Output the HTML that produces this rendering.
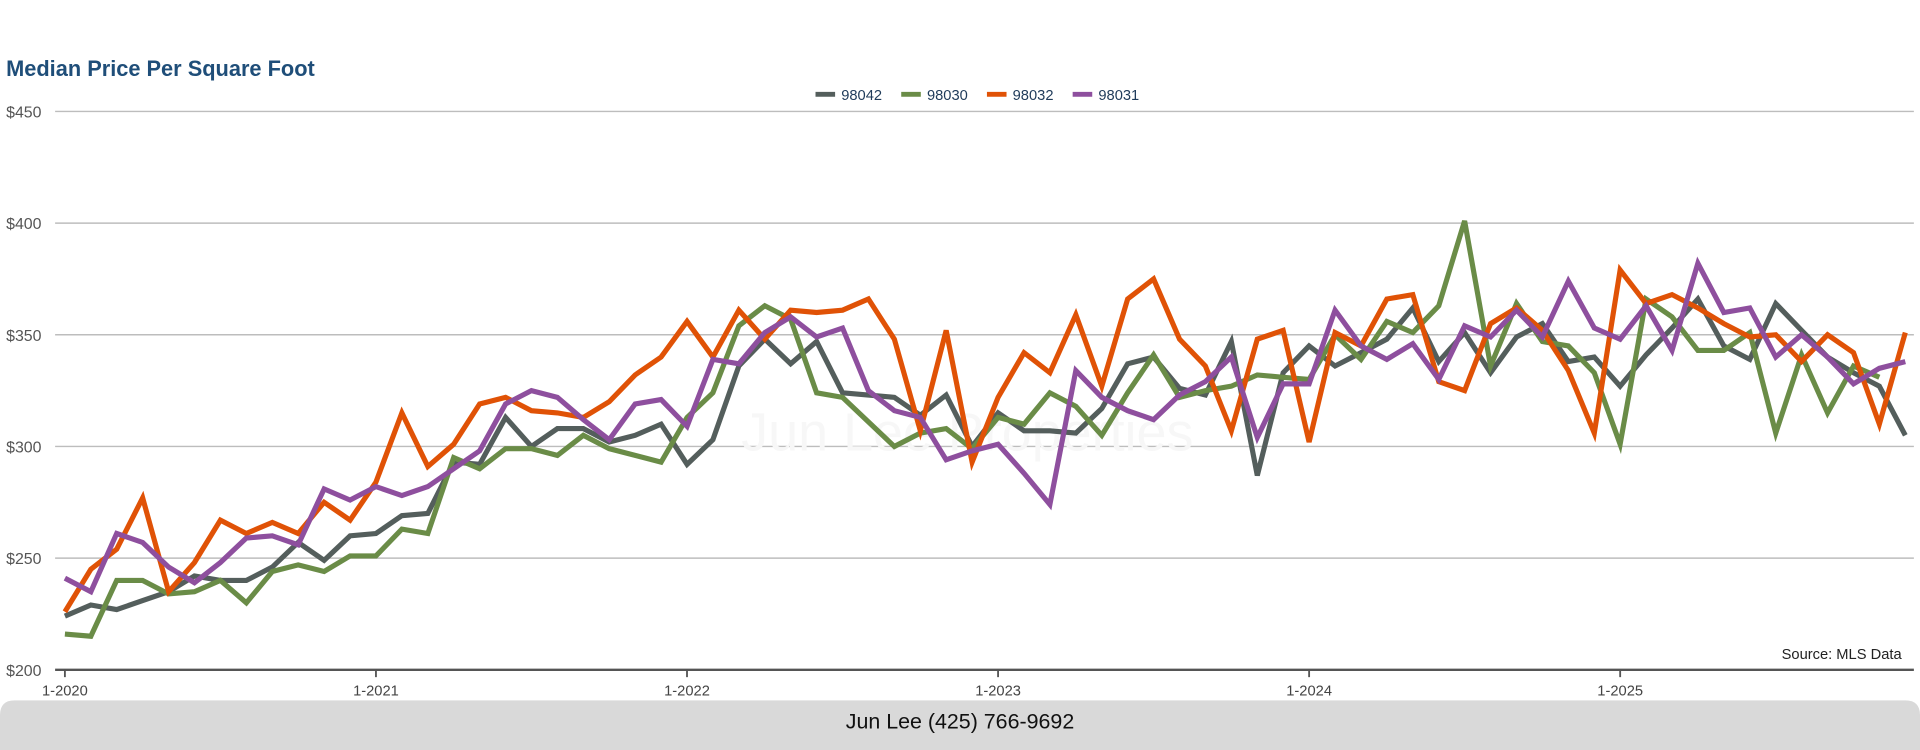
<!DOCTYPE html>
<html><head><meta charset="utf-8"><style>
html,body{margin:0;padding:0;background:#fff;width:1920px;height:750px;overflow:hidden}
svg{display:block;font-family:"Liberation Sans",sans-serif}
</style></head><body>
<svg id="chart" width="1920" height="750" viewBox="0 0 1568 612.5" xmlns="http://www.w3.org/2000/svg">
<text x="5" y="62" font-size="17.8" font-weight="bold" fill="#1f4e79">Median Price Per Square Foot</text>
<g id="legend"></g>
<g id="grid"></g>
<text x="790" y="368" font-size="44" fill="#f7f7f7" text-anchor="middle">Jun Lee Properties</text>
<g id="series"></g>
<text x="1553" y="538" font-size="12" fill="#222" text-anchor="end">Source: MLS Data</text>
<path d="M0,584 Q0,572 12,572 L1556,572 Q1568,572 1568,584 L1568,612.5 L0,612.5 Z" fill="#d9d9d9"/>
<text x="784" y="595" font-size="17.5" fill="#111" text-anchor="middle">Jun Lee (425) 766-9692</text>
</svg>
<script>
const NS="http://www.w3.org/2000/svg";
const seriesNames=["98042","98030","98032","98031"];
const seriesColors=["#545e5c","#6a8c47","#e05206","#8e4f9e"];
const yTicks=[200,250,300,350,400,450];
const xTickLabels=["1-2020","1-2021","1-2022","1-2023","1-2024","1-2025"];
const xTickIndex=[0,12,24,36,48,60];
const s98042=[224,229,227,231,235,242,240,240,246,257,249,260,261,269,270,293,292,313,300,308,308,302,305,310,292,303,336,348,337,347,324,323,322,314,323,300,315,307,307,306,317,337,340,326,323,347,287,333,345,336,342,348,362,338,351,333,349,355,338,340,327,341,353,366,345,339,364,352,340,333,327,305];
const s98030=[216,215,240,240,234,235,240,230,244,247,244,251,251,263,261,295,290,299,299,296,305,299,296,293,313,324,354,363,357,324,322,311,300,306,308,299,313,310,324,318,305,324,341,322,325,327,332,331,330,350,339,356,351,363,401,336,364,347,345,333,301,366,358,343,343,351,306,341,315,336,331,null];
const s98032=[226,245,254,277,235,248,267,261,266,261,275,267,284,315,291,301,319,322,316,315,313,320,332,340,356,340,361,348,361,360,361,366,348,307,352,293,322,342,333,359,327,366,375,348,336,307,348,352,302,351,345,366,368,329,325,355,362,352,334,306,379,364,368,362,355,349,350,338,350,342,310,351];
const s98031=[241,235,261,257,246,239,248,259,260,256,281,276,282,278,282,290,298,319,325,322,312,303,319,321,309,339,337,351,358,349,353,325,316,313,294,298,301,288,274,334,322,316,312,323,329,340,304,328,328,361,345,339,346,330,354,349,361,349,374,353,348,363,343,382,360,362,340,350,340,328,335,338];
const allSeries=[s98042,s98030,s98032,s98031];
const X0=53,X1=1556,N=72,Y0=547,Y1=91,VMIN=200,VMAX=450;
function xPos(i){return X0+i*(X1-X0)/(N-1);}
function yPos(v){return Y0-(v-VMIN)*(Y0-Y1)/(VMAX-VMIN);}
const grid=document.getElementById('grid');
yTicks.forEach(function(t){
  const y=yPos(t);
  const ln=document.createElementNS(NS,'line');
  ln.setAttribute('x1',45);ln.setAttribute('x2',1563);ln.setAttribute('y1',y);ln.setAttribute('y2',y);
  ln.setAttribute('stroke',t===200?'#555':'#bdbdbd');ln.setAttribute('stroke-width',t===200?2:1.2);
  
  
  grid.appendChild(ln);
  const tx=document.createElementNS(NS,'text');
  tx.setAttribute('x',5);tx.setAttribute('y',y+5);tx.setAttribute('font-size',13);tx.setAttribute('fill','#555');
  tx.textContent='$'+t;
  
  
  grid.appendChild(tx);
});
xTickIndex.forEach(function(idx,k){
  const x=xPos(idx);
  const tk=document.createElementNS(NS,'line');
  tk.setAttribute('x1',x);tk.setAttribute('x2',x);tk.setAttribute('y1',547);tk.setAttribute('y2',553);
  tk.setAttribute('stroke','#555');tk.setAttribute('stroke-width',1.5);
  
  
  grid.appendChild(tk);
  const tx=document.createElementNS(NS,'text');
  tx.setAttribute('x',x);tx.setAttribute('y',568);tx.setAttribute('font-size',12);tx.setAttribute('fill','#444');tx.setAttribute('text-anchor','middle');
  tx.textContent=xTickLabels[k];
  
  
  grid.appendChild(tx);
});
const sg=document.getElementById('series');
allSeries.forEach(function(arr,si){
  let d='';let pen=false;
  arr.forEach(function(v,i){
    if(v===null){pen=false;return;}
    d+=(pen?'L':'M')+xPos(i).toFixed(1)+','+yPos(v).toFixed(1);pen=true;
  });
  const p=document.createElementNS(NS,'path');
  p.setAttribute('d',d);p.setAttribute('fill','none');p.setAttribute('stroke',seriesColors[si]);
  p.setAttribute('stroke-width',4.2);p.setAttribute('stroke-linejoin','miter');
  
  
  sg.appendChild(p);
});
const lg=document.getElementById('legend');
const legX=[666,736,806,876];
seriesNames.forEach(function(n,i){
  const ln=document.createElementNS(NS,'line');
  ln.setAttribute('x1',legX[i]);ln.setAttribute('x2',legX[i]+16);ln.setAttribute('y1',77);ln.setAttribute('y2',77);
  ln.setAttribute('stroke',seriesColors[i]);ln.setAttribute('stroke-width',4);
  
  
  lg.appendChild(ln);
  const tx=document.createElementNS(NS,'text');
  tx.setAttribute('x',legX[i]+21);tx.setAttribute('y',81.5);tx.setAttribute('font-size',12);tx.setAttribute('fill','#1f3b5a');
  tx.textContent=n;
  
  
  lg.appendChild(tx);
});
</script>
</body></html>
